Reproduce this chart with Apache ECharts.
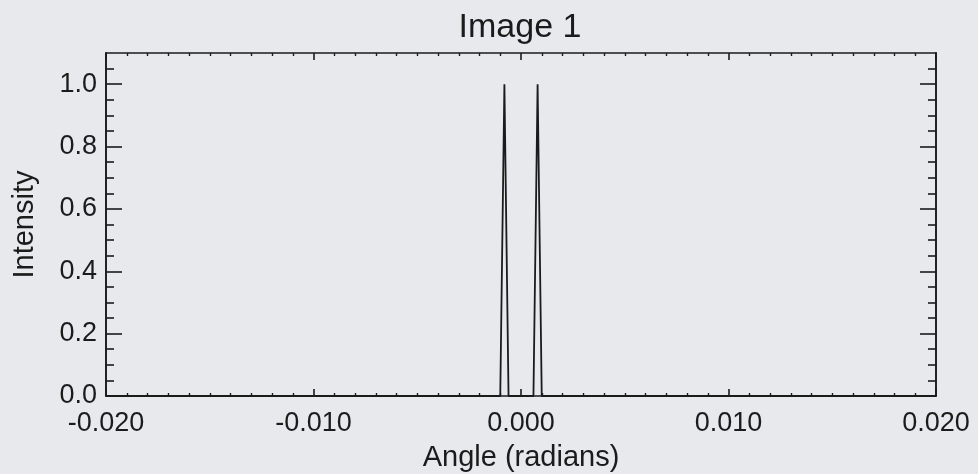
<!DOCTYPE html>
<html>
<head>
<meta charset="utf-8">
<script src="https://cdn.jsdelivr.net/npm/echarts@6/dist/echarts.min.js"></script>
<style>
  html, body { margin: 0; padding: 0; background: #e7e9ec; }
  #chart { width: 978px; height: 474px; }
</style>
</head>
<body>
<div id="chart"></div>
<script>
// Angular intensity profile: two narrow peaks either side of zero.
const angle = [-0.020, -0.0010, -0.0008, -0.0006, 0.0006, 0.0008, 0.0010, 0.020];
const intensity = [0.0, 0.0, 1.0, 0.0, 0.0, 1.0, 0.0, 0.0];

// Axis ranges and tick positions
const xRange = [-0.020, 0.020];
const xStep = 0.010;
const yRange = [0.0, 1.1];
const yMajorTicks = [0.0, 0.2, 0.4, 0.6, 0.8, 1.0];
const yMinorTicks = [0.05, 0.1, 0.15, 0.25, 0.3, 0.35, 0.45, 0.5, 0.55, 0.65, 0.7, 0.75,
                     0.85, 0.9, 0.95, 1.05];

const ink = '#1b1b1b';
const font = 'Liberation Sans, Arial, Helvetica, sans-serif';

const chart = echarts.init(document.getElementById('chart'), null, { renderer: 'canvas' });

function xAxisDef(pos, withLabels) {
  return {
    type: 'value', position: pos,
    min: xRange[0], max: xRange[1], interval: xStep,
    axisLine: { show: true, onZero: false, lineStyle: { color: ink, width: 1.6 } },
    axisTick: { show: true, inside: true, length: 7, lineStyle: { color: ink, width: 1.6 } },
    minorTick: { show: true, splitNumber: 10, length: 3, lineStyle: { color: ink, width: 1.4 } },
    splitLine: { show: false },
    axisLabel: {
      show: withLabels, margin: 14, fontSize: 27, color: ink, fontFamily: font,
      formatter: v => v.toFixed(3)
    },
    name: withLabels ? 'Angle (radians)' : '',
    nameLocation: 'middle', nameGap: 47,
    nameTextStyle: { fontSize: 29, color: ink, fontFamily: font }
  };
}

function yAxisDef(pos, ticks, len, withLabels) {
  return {
    type: 'value', position: pos,
    min: yRange[0], max: yRange[1],
    axisLine: { show: true, onZero: false, lineStyle: { color: ink, width: 1.6 } },
    axisTick: { show: true, inside: true, length: len, customValues: ticks,
                lineStyle: { color: ink, width: 1.6 } },
    splitLine: { show: false },
    axisLabel: {
      show: withLabels, customValues: yMajorTicks, margin: 9, fontSize: 27,
      color: ink, fontFamily: font, formatter: v => v.toFixed(1)
    },
    name: withLabels ? 'Intensity' : '',
    nameLocation: 'middle', nameRotate: 90, nameGap: 67,
    nameTextStyle: { fontSize: 29, color: ink, fontFamily: font }
  };
}

chart.setOption({
  backgroundColor: '#e7e9ec',
  animation: false,
  title: {
    text: 'Image 1', left: 515, top: 6, textAlign: 'center',
    textStyle: { fontSize: 34, fontWeight: 'normal', color: ink, fontFamily: font }
  },
  grid: { left: 106, right: 42, top: 53, bottom: 78, containLabel: false, outerBoundsMode: 'none' },
  xAxis: [xAxisDef('bottom', true), xAxisDef('top', false)],
  yAxis: [
    yAxisDef('left', yMajorTicks, 16, true),
    yAxisDef('left', yMinorTicks, 8, false),
    yAxisDef('right', yMajorTicks, 16, false),
    yAxisDef('right', yMinorTicks, 8, false)
  ],
  series: [{
    type: 'line',
    xAxisIndex: 0, yAxisIndex: 0,
    data: angle.map((a, i) => [a, intensity[i]]),
    showSymbol: false,
    lineStyle: { color: ink, width: 1.8 },
    clip: false
  }]
});
</script>
</body>
</html>
